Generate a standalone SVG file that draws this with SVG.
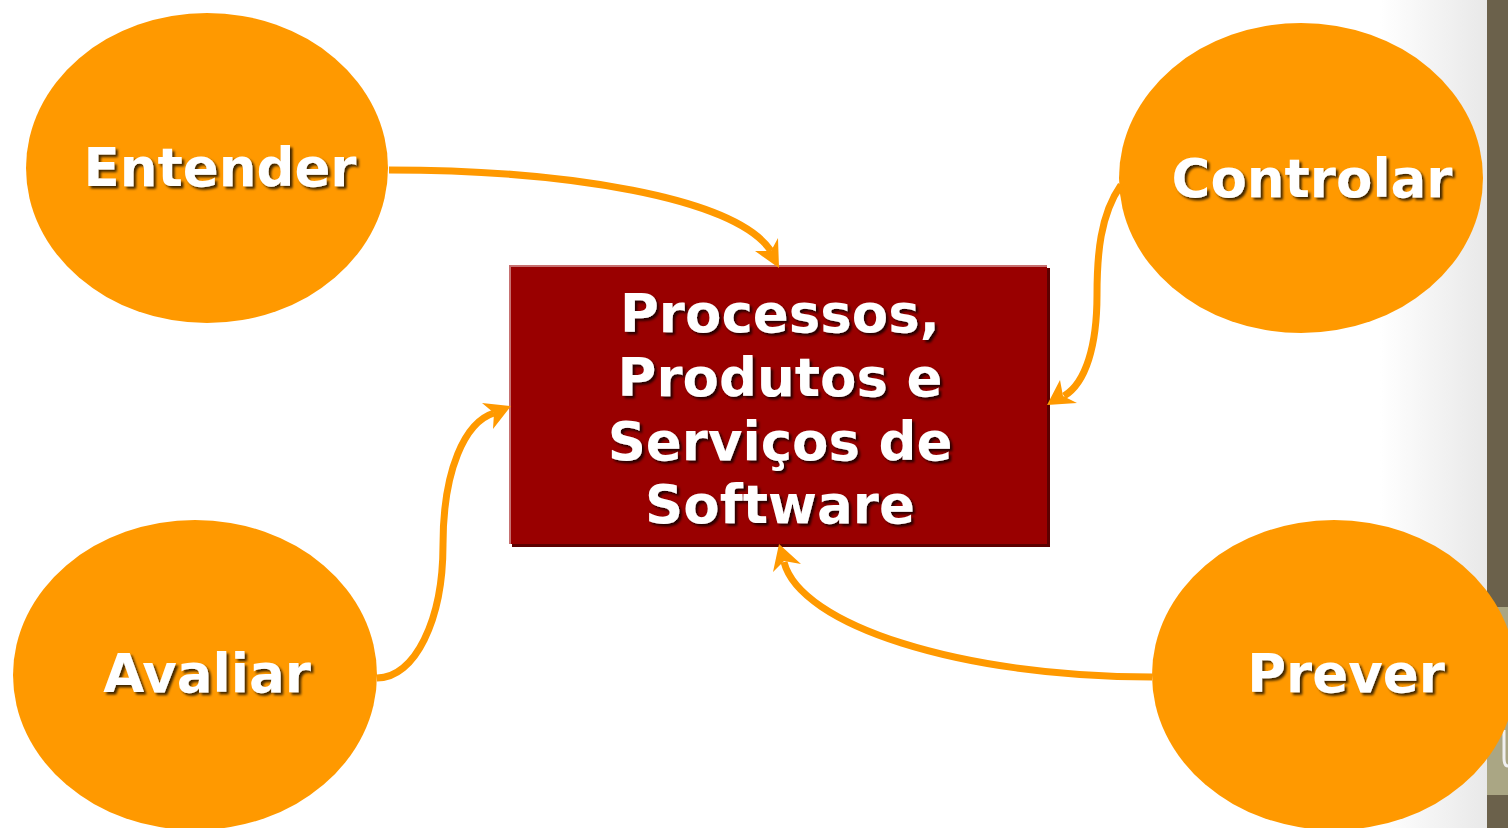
<svg xmlns="http://www.w3.org/2000/svg" width="1508" height="828" viewBox="0 0 1508 828">
<defs>
<linearGradient id="bg" x1="0" y1="0" x2="1" y2="0">
<stop offset="0" stop-color="#ffffff"/>
<stop offset="1" stop-color="#e8e8e8"/>
</linearGradient>
<filter id="sh" x="-10%" y="-10%" width="130%" height="140%">
<feDropShadow dx="2.5" dy="2.5" stdDeviation="1" flood-color="#000" flood-opacity="0.75"/>
</filter>
<style>
.node{fill:#ff9900}
.lbl{font-family:"DejaVu Sans",Verdana,sans-serif;font-weight:bold;font-size:53px;fill:#ffffff;text-anchor:middle;filter:url(#sh)}
.conn{fill:none;stroke:#ff9900}
.head{fill:#ff9900}
</style>
</defs>
<rect x="0" y="0" width="1508" height="828" fill="#ffffff"/>
<rect x="1380" y="0" width="108" height="828" fill="url(#bg)"/>
<rect x="1487" y="0" width="21" height="828" fill="#6b614b"/>
<rect x="1487" y="607" width="21" height="188" fill="#aaa684"/>
<path d="M1504,730 L1504,758 Q1504,766 1508,766" fill="none" stroke="#f0f0f0" stroke-width="3"/>

<g id="entender">
<ellipse class="node" cx="207" cy="168" rx="181" ry="155"/>
<text class="lbl" x="220" y="186">Entender</text>
</g>
<g id="controlar">
<ellipse class="node" cx="1301" cy="178" rx="182" ry="155"/>
<text class="lbl" x="1312" y="197">Controlar</text>
</g>
<g id="avaliar">
<ellipse class="node" cx="195" cy="675" rx="182" ry="155"/>
<text class="lbl" x="207" y="692">Avaliar</text>
</g>
<g id="prever">
<ellipse class="node" cx="1334" cy="675" rx="182" ry="155"/>
<text class="lbl" x="1346" y="692">Prever</text>
</g>
<g id="processos">
<rect x="512" y="268" width="538" height="279" fill="#5c0000"/>
<rect x="509" y="265" width="538" height="279" fill="#c77070"/>
<rect x="511" y="267" width="536" height="277" fill="#990000"/>
<text class="lbl" x="780" y="332">Processos,</text>
<text class="lbl" x="780" y="396">Produtos e</text>
<text class="lbl" x="780" y="460">Serviços de</text>
<text class="lbl" x="780" y="523">Software</text>
</g>

<g id="connectors">
<path class="conn" stroke-width="7" d="M389,170 C565,170 735,197 771,251"/>
<polygon class="head" points="779,268 755,251 771,251 778,238"/>
<path class="conn" stroke-width="7" d="M1121,185 C1100,215 1097,255 1097,295 C1097,345 1086,383 1064,396"/>
<polygon class="head" points="1047,405 1060,380 1063,396 1077,403"/>
<path class="conn" stroke-width="7" d="M377,678 C415,678 443,620 443,545 C443,470 465,422 494,413"/>
<polygon class="head" points="511,406 482,403 494,413 493,429"/>
<path class="conn" stroke-width="7" d="M1152,677 C960,677 800,625 784,562"/>
<polygon class="head" points="779,544 773,572 784,561 801,564"/>
</g>
</svg>
